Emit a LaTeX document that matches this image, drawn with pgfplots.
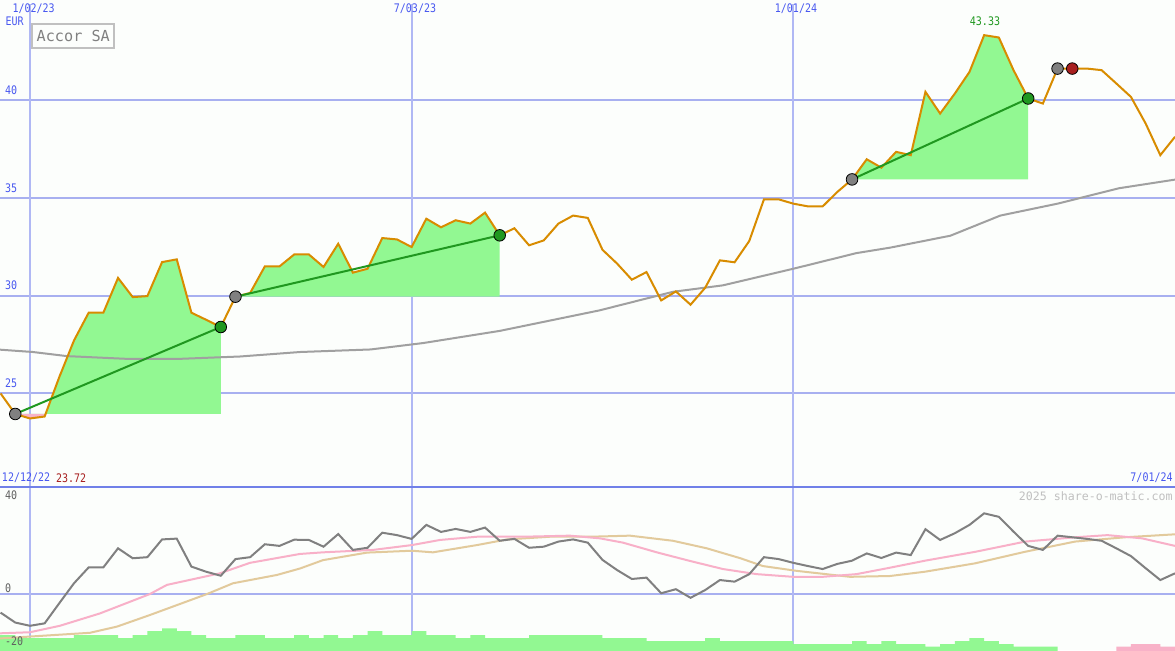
\documentclass[border=0pt]{standalone}
\usepackage{pgfplots}
\pgfplotsset{compat=1.18}
\usepackage{graphicx}
\usepackage{fontspec}
\setmainfont{DejaVu Sans Mono}
\setmonofont{DejaVu Sans Mono}
\definecolor{bg}{RGB}{252,254,252}
\definecolor{gridc}{RGB}{168,176,240}
\definecolor{vgridc}{RGB}{176,184,244}
\definecolor{sepc}{RGB}{112,128,232}
\definecolor{lblblue}{RGB}{72,88,240}
\definecolor{pricec}{RGB}{216,140,0}
\definecolor{mac}{RGB}{160,160,160}
\definecolor{fillg}{RGB}{146,248,146}
\definecolor{fillp}{RGB}{248,178,200}
\definecolor{trendg}{RGB}{32,152,32}
\definecolor{dotgray}{RGB}{128,128,128}
\definecolor{dotred}{RGB}{168,32,32}
\definecolor{lowgray}{RGB}{128,128,128}
\definecolor{lowpink}{RGB}{248,176,200}
\definecolor{lowtan}{RGB}{226,202,156}
\definecolor{txtgray}{RGB}{96,96,96}
\definecolor{wmgray}{RGB}{192,192,192}
\newcommand{\lbl}[1]{\scalebox{1}[1.18]{\fontsize{5}{6}\selectfont #1}}
\begin{document}
\begin{tikzpicture}[x=1pt,y=1pt]
\useasboundingbox (0,0) rectangle (587.5,325);
\fill[bg] (0,0) rectangle (587.5,325);
% ---------------- upper panel ----------------
\begin{axis}[at={(0,81.25)}, anchor=south west, scale only axis,
  width=587.5pt, height=243.75pt, xmin=-2.04, xmax=78, ymin=20, ymax=44.94,
  hide axis, clip=true]
\draw[gridc, line width=1pt] (axis cs:-2.04,25) -- (axis cs:78,25);
\draw[gridc, line width=1pt] (axis cs:-2.04,30) -- (axis cs:78,30);
\draw[gridc, line width=1pt] (axis cs:-2.04,35) -- (axis cs:78,35);
\draw[gridc, line width=1pt] (axis cs:-2.04,40) -- (axis cs:78,40);
\draw[vgridc, line width=1pt] (axis cs:0,20) -- (axis cs:0,44.94);
\draw[vgridc, line width=1pt] (axis cs:26,20) -- (axis cs:26,44.94);
\draw[vgridc, line width=1pt] (axis cs:52,20) -- (axis cs:52,44.94);
% green areas
\addplot[fill=fillg, draw=none] coordinates {(-1,23.95) (0,23.72) (1,23.82) (2,25.84) (3,27.71) (4,29.13) (5,29.13) (6,30.91) (7,29.93) (8,29.98) (9,31.72) (10,31.86) (11,29.13) (12,28.77) (13,28.40) (13,23.95)} -- cycle;
\addplot[fill=fillp, draw=none] coordinates {(-1,23.95) (0,23.72) (1,23.82) (1.064,23.95)} -- cycle;
\addplot[fill=fillg, draw=none] coordinates {(14,29.95) (15,30.14) (16,31.50) (17,31.50) (18,32.11) (19,32.11) (20,31.47) (21,32.66) (22,31.18) (23,31.38) (24,32.95) (25,32.88) (26,32.49) (27,33.94) (28,33.50) (29,33.86) (30,33.69) (31,34.25) (32,33.09) (32,29.95)} -- cycle;
\addplot[fill=fillg, draw=none] coordinates {(56,35.95) (57,36.98) (58,36.55) (59,37.36) (60,37.19) (61,40.43) (62,39.32) (63,40.34) (64,41.45) (65,43.33) (66,43.21) (67,41.54) (68,40.09) (68,35.95)} -- cycle;
% moving average
\addplot[mac, line width=1pt] coordinates {(-2.04,27.24) (0.2,27.12) (2.52,26.91) (6.6,26.77) (10.2,26.77) (14.3,26.89) (18.4,27.12) (23.2,27.25) (26.8,27.58) (32.0,28.2) (38.8,29.25) (43.8,30.2) (47.2,30.53) (52.0,31.38) (56.3,32.18) (58.6,32.46) (62.7,33.07) (66.1,34.1) (70.0,34.71) (74.2,35.5) (78,35.94)};
% price
\addplot[pricec, line width=1pt] coordinates {
(-2,25.0) (-1,23.95) (0,23.72) (1,23.82) (2,25.84) (3,27.71) (4,29.13) (5,29.13) (6,30.91) (7,29.93)
(8,29.98) (9,31.72) (10,31.86) (11,29.13) (12,28.77) (13,28.40) (14,29.95) (15,30.14) (16,31.50) (17,31.50)
(18,32.11) (19,32.11) (20,31.47) (21,32.66) (22,31.18) (23,31.38) (24,32.95) (25,32.88) (26,32.49) (27,33.94)
(28,33.50) (29,33.86) (30,33.69) (31,34.25) (32,33.09) (33,33.45) (34,32.58) (35,32.83) (36,33.69) (37,34.10)
(38,33.98) (39,32.35) (40,31.64) (41,30.82) (42,31.21) (43,29.76) (44,30.22) (45,29.54) (46,30.41) (47,31.81)
(48,31.71) (49,32.80) (50,34.93) (51,34.93) (52,34.71) (53,34.57) (54,34.57) (55,35.31) (56,35.95) (57,36.98)
(58,36.55) (59,37.36) (60,37.19) (61,40.43) (62,39.32) (63,40.34) (64,41.45) (65,43.33) (66,43.21) (67,41.54)
(68,40.09) (69,39.83) (70,41.62) (71,41.62) (72,41.62) (73,41.54) (74,40.86) (75,40.17) (76,38.81) (77,37.19) (78,38.13)};
% trend lines
\addplot[trendg, line width=1pt] coordinates {(-1,23.95) (13,28.40)};
\addplot[trendg, line width=1pt] coordinates {(14,29.95) (32,33.09)};
\addplot[trendg, line width=1pt] coordinates {(56,35.95) (68,40.09)};
% dots
\addplot[only marks, mark=*, mark size=2.9pt, mark options={fill=dotgray, draw=none}] coordinates {(-1,23.95) (14,29.95) (56,35.95) (70,41.62)};
\addplot[only marks, mark=*, mark size=2.9pt, mark options={fill=trendg, draw=none}] coordinates {(13,28.40) (32,33.09) (68,40.09)};
\addplot[only marks, mark=*, mark size=2.9pt, mark options={fill=dotred, draw=none}] coordinates {(71,41.62)};
\end{axis}
% ---------------- lower panel ----------------
\begin{axis}[at={(0,0)}, anchor=south west, scale only axis,
  width=587.5pt, height=81.25pt, xmin=-2.04, xmax=78, ymin=-20.7, ymax=39.7,
  hide axis, clip=true]
\draw[gridc, line width=1pt] (axis cs:-2.04,0) -- (axis cs:78,0);
\draw[vgridc, line width=1pt] (axis cs:0,-20.7) -- (axis cs:0,39.7);
\draw[vgridc, line width=1pt] (axis cs:26,-20.7) -- (axis cs:26,39.7);
\draw[vgridc, line width=1pt] (axis cs:52,-20.7) -- (axis cs:52,39.7);
% bars
\addplot[const plot, fill=fillg, draw=none] coordinates {
(-2.04,-25) (-2.04,-15.13) (-1,-16.25) (0,-16.25) (1,-16.25) (2,-16.25) (3,-15.13) (4,-15.13) (5,-15.13) (6,-16.25)
(7,-15.13) (8,-13.64) (9,-12.64) (10,-13.64) (11,-15.13) (12,-16.25) (13,-16.25) (14,-15.13) (15,-15.13) (16,-16.25)
(17,-16.25) (18,-15.13) (19,-16.25) (20,-15.13) (21,-16.25) (22,-15.13) (23,-13.64) (24,-15.13) (25,-15.13) (26,-13.64)
(27,-15.13) (28,-15.13) (29,-16.25) (30,-15.13) (31,-16.25) (32,-16.25) (33,-16.25) (34,-15.13) (35,-15.13) (36,-15.13)
(37,-15.13) (38,-15.13) (39,-16.25) (40,-16.25) (41,-16.25) (42,-17.36) (43,-17.36) (44,-17.36) (45,-17.36) (46,-16.25)
(47,-17.36) (48,-17.36) (49,-17.36) (50,-17.36) (51,-17.36) (52,-18.48) (53,-18.48) (54,-18.48) (55,-18.48) (56,-17.36)
(57,-18.48) (58,-17.36) (59,-18.48) (60,-18.48) (61,-19.48) (62,-18.48) (63,-17.36) (64,-16.25) (65,-17.36) (66,-18.48)
(67,-19.48) (68,-19.48) (69,-19.48) (70,-19.48) (70,-25)} -- cycle;
\addplot[const plot, fill=fillp, draw=none] coordinates {
(74,-25) (74,-19.48) (75,-18.48) (76,-18.48) (77,-19.48) (78,-19.48) (78,-25)} -- cycle;
% lines
\addplot[lowtan, line width=1pt] coordinates {(-2.04,-16.4) (4.09,-14.3) (5.93,-12.0) (8.17,-7.7) (12.06,0.1) (13.83,4.1) (16.83,7.2) (18.4,9.6) (19.96,12.7) (22.96,15.5) (26.02,16.2) (27.45,15.6) (30.45,18.3) (32.5,20.4) (35.42,21.4) (38.15,21.4) (40.87,21.8) (43.8,19.9) (46.1,17.1) (48.4,13.4) (49.93,10.5) (52.25,8.7) (55.86,6.5) (58.58,6.8) (60.97,8.4) (64.37,11.5) (67.78,15.8) (71.19,19.6) (74.6,21.2) (78,22.3)};
\addplot[lowpink, line width=1pt] coordinates {(-2.04,-14.5) (0,-14.1) (2.04,-11.7) (4.77,-7.1) (8.17,0.1) (9.33,3.5) (12.94,7.8) (14.99,11.7) (18.39,15.0) (19.96,15.6) (23.37,16.5) (26.02,18.3) (27.93,20.2) (30.45,21.4) (33.58,21.4) (36.78,21.8) (38.83,20.8) (40.4,19.2) (42.7,15.6) (44.96,12.4) (47.2,9.4) (49.5,7.5) (51.98,6.5) (54.0,6.5) (56.3,7.5) (58.6,9.9) (60.97,12.5) (64.4,15.8) (67.8,19.6) (71.2,21.2) (73.4,22.0) (75.75,20.8) (78,18.0)};
\addplot[lowgray, line width=1pt] coordinates {
(-2,-6.8) (-1,-10.5) (0,-11.7) (1,-10.8) (2,-3.3) (3,4.1) (4,10.0) (5,10.0) (6,17.1) (7,13.4)
(8,13.8) (9,20.4) (10,20.7) (11,10.3) (12,8.4) (13,6.9) (14,13.1) (15,13.8) (16,18.6) (17,18.0)
(18,20.3) (19,20.2) (20,17.7) (21,22.4) (22,16.5) (23,17.3) (24,22.9) (25,22.0) (26,20.6) (27,25.8)
(28,23.2) (29,24.3) (30,23.2) (31,24.8) (32,19.9) (33,20.6) (34,17.3) (35,17.7) (36,19.6) (37,20.4)
(38,19.2) (39,12.8) (40,9.0) (41,5.7) (42,6.2) (43,0.4) (44,1.9) (45,-1.3) (46,1.6) (47,5.3)
(48,4.7) (49,7.5) (50,13.8) (51,13.1) (52,11.7) (53,10.5) (54,9.4) (55,11.3) (56,12.5) (57,15.2)
(58,13.5) (59,15.5) (60,14.6) (61,24.2) (62,20.2) (63,22.7) (64,25.8) (65,30.1) (66,28.8) (67,23.3)
(68,18.0) (69,16.5) (70,21.8) (71,21.2) (72,20.6) (73,19.9) (74,17.1) (75,14.2) (76,9.7) (77,5.3) (78,7.8)};
\end{axis}
% separator
\draw[sepc, line width=1.2pt] (0,81.5) -- (587.5,81.5);
% labels
\begin{scope}[every node/.style={inner sep=0pt}]
\node[lblblue] at (16.8,320.5) {\lbl{1/02/23}};
\node[lblblue] at (207.5,320.5) {\lbl{7/03/23}};
\node[lblblue] at (398,320.5) {\lbl{1/01/24}};
\node[lblblue, anchor=west] at (2.6,314.3) {\lbl{EUR}};
\node[lblblue, anchor=west] at (2.4,279.8) {\lbl{40}};
\node[lblblue, anchor=west] at (2.4,231) {\lbl{35}};
\node[lblblue, anchor=west] at (2.4,182.5) {\lbl{30}};
\node[lblblue, anchor=west] at (2.4,133.5) {\lbl{25}};
\node[trendg] at (492.5,314.5) {\lbl{43.33}};
\node[lblblue, anchor=west] at (0.8,86) {\lbl{12/12/22}};
\node[dotred, anchor=west] at (27.8,86) {\lbl{23.72}};
\node[lblblue, anchor=east] at (586.5,86) {\lbl{7/01/24}};
\node[wmgray, anchor=east, font=\fontsize{5.8}{6}\selectfont] at (586.5,77) {2025 share-o-matic.com};
\node[txtgray, anchor=west] at (2.4,77.5) {\lbl{40}};
\node[txtgray, anchor=west] at (2.4,31) {\lbl{0}};
\node[txtgray, anchor=west] at (2.4,4.4) {\lbl{-20}};
\end{scope}
\draw[wmgray, line width=1pt, fill=bg] (16.15,300.85) rectangle (57.15,312.85);
\node[inner sep=0pt, text=dotgray, font=\fontsize{7.6}{8}\selectfont] at (36.65,306.8) {Accor SA};
\end{tikzpicture}
\end{document}
